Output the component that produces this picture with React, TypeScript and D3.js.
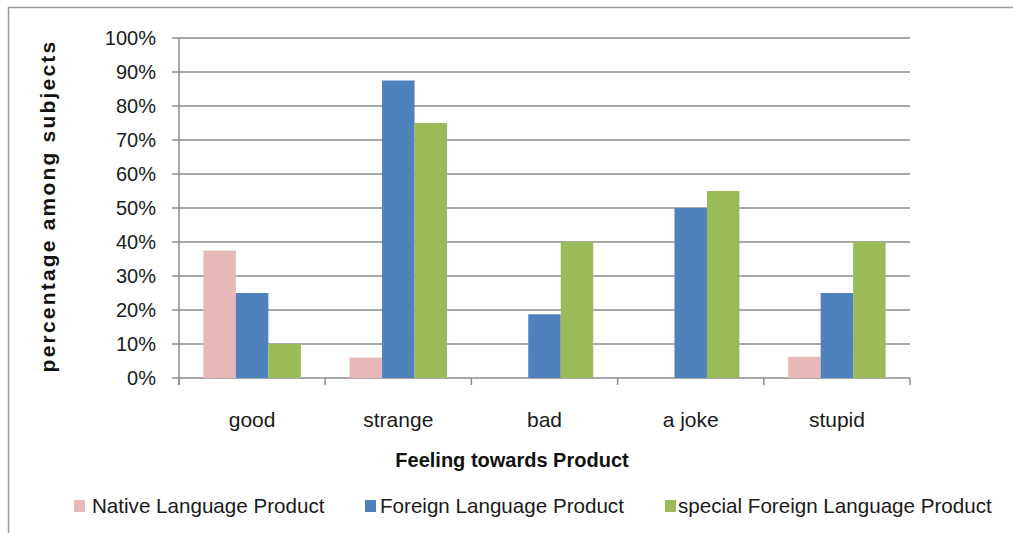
import React, { useEffect, useRef } from 'react';
import * as d3 from 'd3';

const categories = ['good', 'strange', 'bad', 'a joke', 'stupid'];
const seriesNames = ['Native Language Product', 'Foreign Language Product', 'special Foreign Language Product'];
const nativeValues = [37.5, 6, 0, 0, 6.25];
const foreignValues = [25, 87.5, 18.75, 50, 25];
const specialValues = [10, 75, 40, 55, 40];
const yTicks = [0, 10, 20, 30, 40, 50, 60, 70, 80, 90, 100];
const colors = ['#E6B9B8', '#4F81BD', '#9BBB59'];

const W = 1013;
const H = 533;
const FONT = '"Liberation Sans", Arial, sans-serif';

const App: React.FC = () => {
  const svgRef = useRef<SVGSVGElement>(null);

  useEffect(() => {
    if (!svgRef.current) return;
    const svg = d3.select(svgRef.current);
    svg.selectAll('*').remove();

    const left = 179, right = 910, top = 38, bottom = 378;
    const values = [nativeValues, foreignValues, specialValues];

    // outer frame (bottom/right run off the picture)
    svg.append('rect')
      .attr('x', 8.5).attr('y', 7.5)
      .attr('width', W).attr('height', H)
      .attr('fill', '#fff').attr('stroke', '#9a9a9a').attr('stroke-width', 1.5);

    const y = d3.scaleLinear().domain([0, 100]).range([bottom, top]);
    const x0 = d3.scaleBand<string>().domain(categories).range([left, right])
      .paddingInner(1 / 3).paddingOuter(1 / 6);
    const x1 = d3.scaleBand<number>().domain([0, 1, 2]).range([0, x0.bandwidth()]);

    // gridlines + y labels
    const grid = svg.append('g');
    yTicks.forEach(t => {
      grid.append('line')
        .attr('x1', left - 7).attr('x2', right)
        .attr('y1', y(t)).attr('y2', y(t))
        .attr('stroke', '#8c8c8c').attr('stroke-width', 1.5);
      grid.append('text')
        .attr('x', 156).attr('y', y(t))
        .attr('dy', '0.36em')
        .attr('text-anchor', 'end')
        .attr('font-family', FONT).attr('font-size', 20)
        .attr('fill', '#1a1a1a')
        .text(`${t}%`);
    });

    // y axis line
    svg.append('line')
      .attr('x1', left).attr('x2', left)
      .attr('y1', top).attr('y2', bottom + 7)
      .attr('stroke', '#8c8c8c').attr('stroke-width', 1.5);

    // bars
    categories.forEach((c, ci) => {
      values.forEach((vals, si) => {
        const v = vals[ci];
        if (v <= 0) return;
        svg.append('rect')
          .attr('x', (x0(c) ?? 0) + (x1(si) ?? 0))
          .attr('y', y(v))
          .attr('width', x1.bandwidth())
          .attr('height', y(0) - y(v))
          .attr('fill', colors[si]);
      });
    });

    // x axis ticks at category boundaries
    const step = x0.step();
    d3.range(categories.length + 1).forEach(i => {
      const xx = left + i * step;
      svg.append('line')
        .attr('x1', xx).attr('x2', xx)
        .attr('y1', bottom).attr('y2', bottom + 7)
        .attr('stroke', '#8c8c8c').attr('stroke-width', 1.5);
    });

    // category labels
    categories.forEach(c => {
      svg.append('text')
        .attr('x', (x0(c) ?? 0) + x0.bandwidth() / 2)
        .attr('y', 427)
        .attr('text-anchor', 'middle')
        .attr('font-family', FONT).attr('font-size', 21)
        .attr('fill', '#1a1a1a')
        .text(c);
    });

    // axis titles
    svg.append('text')
      .attr('x', 512).attr('y', 467)
      .attr('text-anchor', 'middle')
      .attr('font-family', FONT).attr('font-size', 20).attr('font-weight', 'bold')
      .attr('fill', '#111')
      .text('Feeling towards Product');

    svg.append('text')
      .attr('transform', `translate(55,206) rotate(-90)`)
      .attr('text-anchor', 'middle')
      .attr('font-family', FONT).attr('font-size', 21).attr('font-weight', 'bold')
      .attr('letter-spacing', 2.2)
      .attr('fill', '#111')
      .text('percentage among subjects');

    // legend
    const squareX = [74, 365, 665];
    const textX = [92, 380, 678];
    seriesNames.forEach((n, i) => {
      svg.append('rect')
        .attr('x', squareX[i]).attr('y', 500).attr('width', 11).attr('height', 12)
        .attr('fill', colors[i]);
      svg.append('text')
        .attr('x', textX[i]).attr('y', 506).attr('dy', '0.36em')
        .attr('font-family', FONT).attr('font-size', 20.6)
        .attr('fill', '#1a1a1a')
        .text(n);
    });
  }, []);

  return (
    <div style={{ position: 'absolute', left: 0, top: 0 }}>
      <svg ref={svgRef} width={W} height={H} style={{ display: 'block', background: '#fff' }} />
    </div>
  );
};

export default App;
